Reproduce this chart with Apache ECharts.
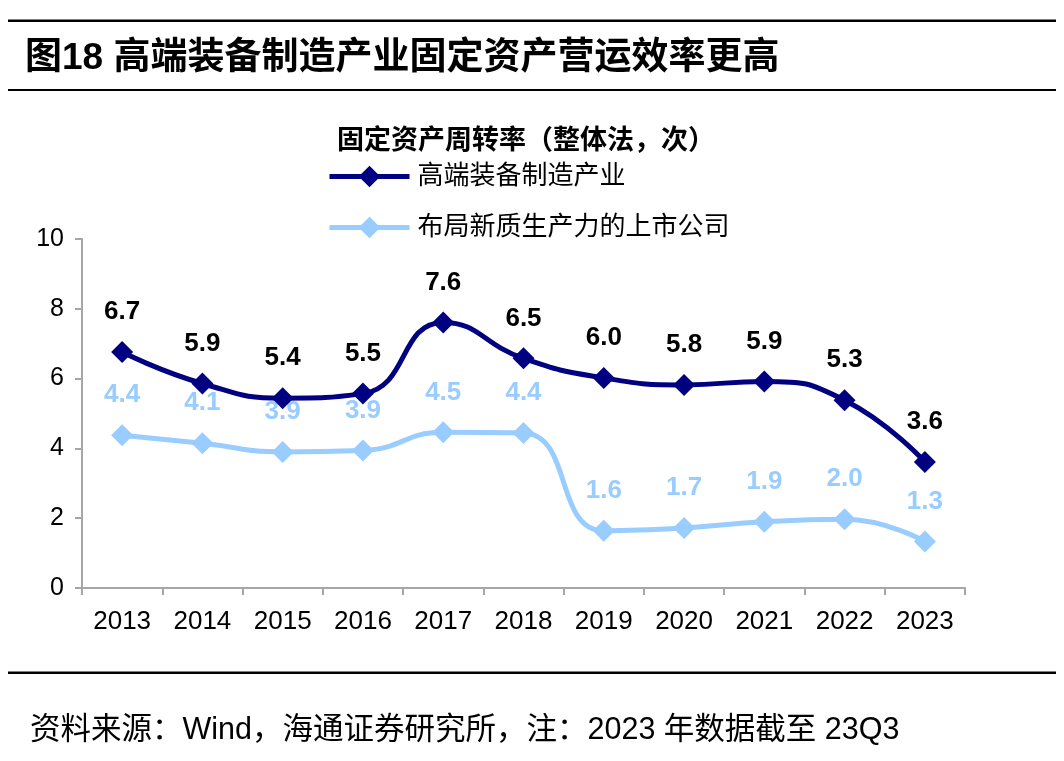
<!DOCTYPE html>
<html>
<head>
<meta charset="utf-8">
<script src="https://cdn.jsdelivr.net/npm/echarts@6/dist/echarts.min.js"></script>
<style>
html,body{margin:0;padding:0;background:#fff;}
#chart{width:1064px;height:761px;}
</style>
</head>
<body>
<div id="chart"></div>
<script>
const categories = ['2013','2014','2015','2016','2017','2018','2019','2020','2021','2022','2023'];
const seriesNames = ['高端装备制造产业','布局新质生产力的上市公司'];
const highEnd = [6.76, 5.86, 5.44, 5.57, 7.61, 6.58, 6.02, 5.82, 5.92, 5.38, 3.61];
const highEndLabels = ['6.7','5.9','5.4','5.5','7.6','6.5','6.0','5.8','5.9','5.3','3.6'];
const newQuality = [4.38, 4.15, 3.90, 3.94, 4.46, 4.44, 1.64, 1.72, 1.90, 1.97, 1.33];
const newQualityLabels = ['4.4','4.1','3.9','3.9','4.5','4.4','1.6','1.7','1.9','2.0','1.3'];
const yTicks = [0, 2, 4, 6, 8, 10];
const chartTitle = '图18 高端装备制造产业固定资产营运效率更高';
const legendTitle = '固定资产周转率（整体法，次）';
const sourceNote = '资料来源：Wind，海通证券研究所，注：2023 年数据截至 23Q3';

const FONT = "'Liberation Sans', Arial, 'Noto Sans CJK SC', sans-serif";
const DARK = '#000080';
const LIGHT = '#99ccff';

const chart = echarts.init(document.getElementById('chart'), null, {renderer: 'canvas'});
chart.setOption({
  backgroundColor: '#ffffff',
  animation: false,
  textStyle: {fontFamily: FONT},
  title: [
    {text: chartTitle, left: 20, top: 35,
     textStyle: {fontFamily: FONT, fontSize: 37, fontWeight: 'bold', color: '#000'}},
    {text: legendTitle, left: 332, top: 123,
     textStyle: {fontFamily: FONT, fontSize: 27, fontWeight: 'bold', color: '#000'}},
    {text: sourceNote, left: 25, top: 710,
     textStyle: {fontFamily: FONT, fontSize: 30.5, fontWeight: 'normal', color: '#000'}}
  ],
  graphic: [
    {type: 'rect', shape: {x: 8, y: 19.5, width: 1048, height: 2.5}, style: {fill: '#000'}},
    {type: 'rect', shape: {x: 8, y: 89, width: 1048, height: 2}, style: {fill: '#000'}},
    {type: 'rect', shape: {x: 8, y: 671.5, width: 1048, height: 2.5}, style: {fill: '#000'}}
  ],
  legend: {
    orient: 'vertical',
    left: 327,
    top: 163,
    padding: 0,
    itemWidth: 80,
    itemHeight: 27,
    itemGap: 24,
    lineStyle: {width: 5},
    textStyle: {fontFamily: FONT, fontSize: 26, color: '#000', lineHeight: 27, padding: [0,0,0,3]},
    data: seriesNames
  },
  grid: {left: 82, right: 99, top: 239, bottom: 173, containLabel: false},
  xAxis: {
    type: 'category',
    data: categories,
    boundaryGap: true,
    axisLine: {lineStyle: {color: '#a6a6a6', width: 2}},
    axisTick: {show: true, length: 7, lineStyle: {color: '#a6a6a6', width: 2}},
    axisLabel: {fontFamily: FONT, fontSize: 26, color: '#000', margin: 21}
  },
  yAxis: {
    type: 'value',
    min: yTicks[0],
    max: yTicks[yTicks.length - 1],
    interval: yTicks[1] - yTicks[0],
    splitLine: {show: false},
    axisLine: {show: true, lineStyle: {color: '#a6a6a6', width: 2}},
    axisTick: {show: true, length: 7, lineStyle: {color: '#a6a6a6', width: 2}},
    axisLabel: {fontFamily: FONT, fontSize: 25, color: '#000', margin: 18}
  },
  series: [
    {
      name: seriesNames[0],
      type: 'line',
      data: highEnd,
      smooth: 0.5,
      symbol: 'diamond',
      symbolSize: 22,
      z: 3,
      lineStyle: {color: DARK, width: 5},
      itemStyle: {color: DARK},
      label: {
        show: true, position: 'top', distance: 16,
        fontFamily: FONT, fontSize: 26, fontWeight: 'bold', color: '#000',
        formatter: p => highEndLabels[p.dataIndex]
      }
    },
    {
      name: seriesNames[1],
      type: 'line',
      data: newQuality,
      smooth: 0.5,
      symbol: 'diamond',
      symbolSize: 22,
      z: 2,
      lineStyle: {color: LIGHT, width: 5},
      itemStyle: {color: LIGHT},
      label: {
        show: true, position: 'top', distance: 16,
        fontFamily: FONT, fontSize: 26, fontWeight: 'bold', color: LIGHT,
        formatter: p => newQualityLabels[p.dataIndex]
      }
    }
  ]
});
</script>
</body>
</html>
